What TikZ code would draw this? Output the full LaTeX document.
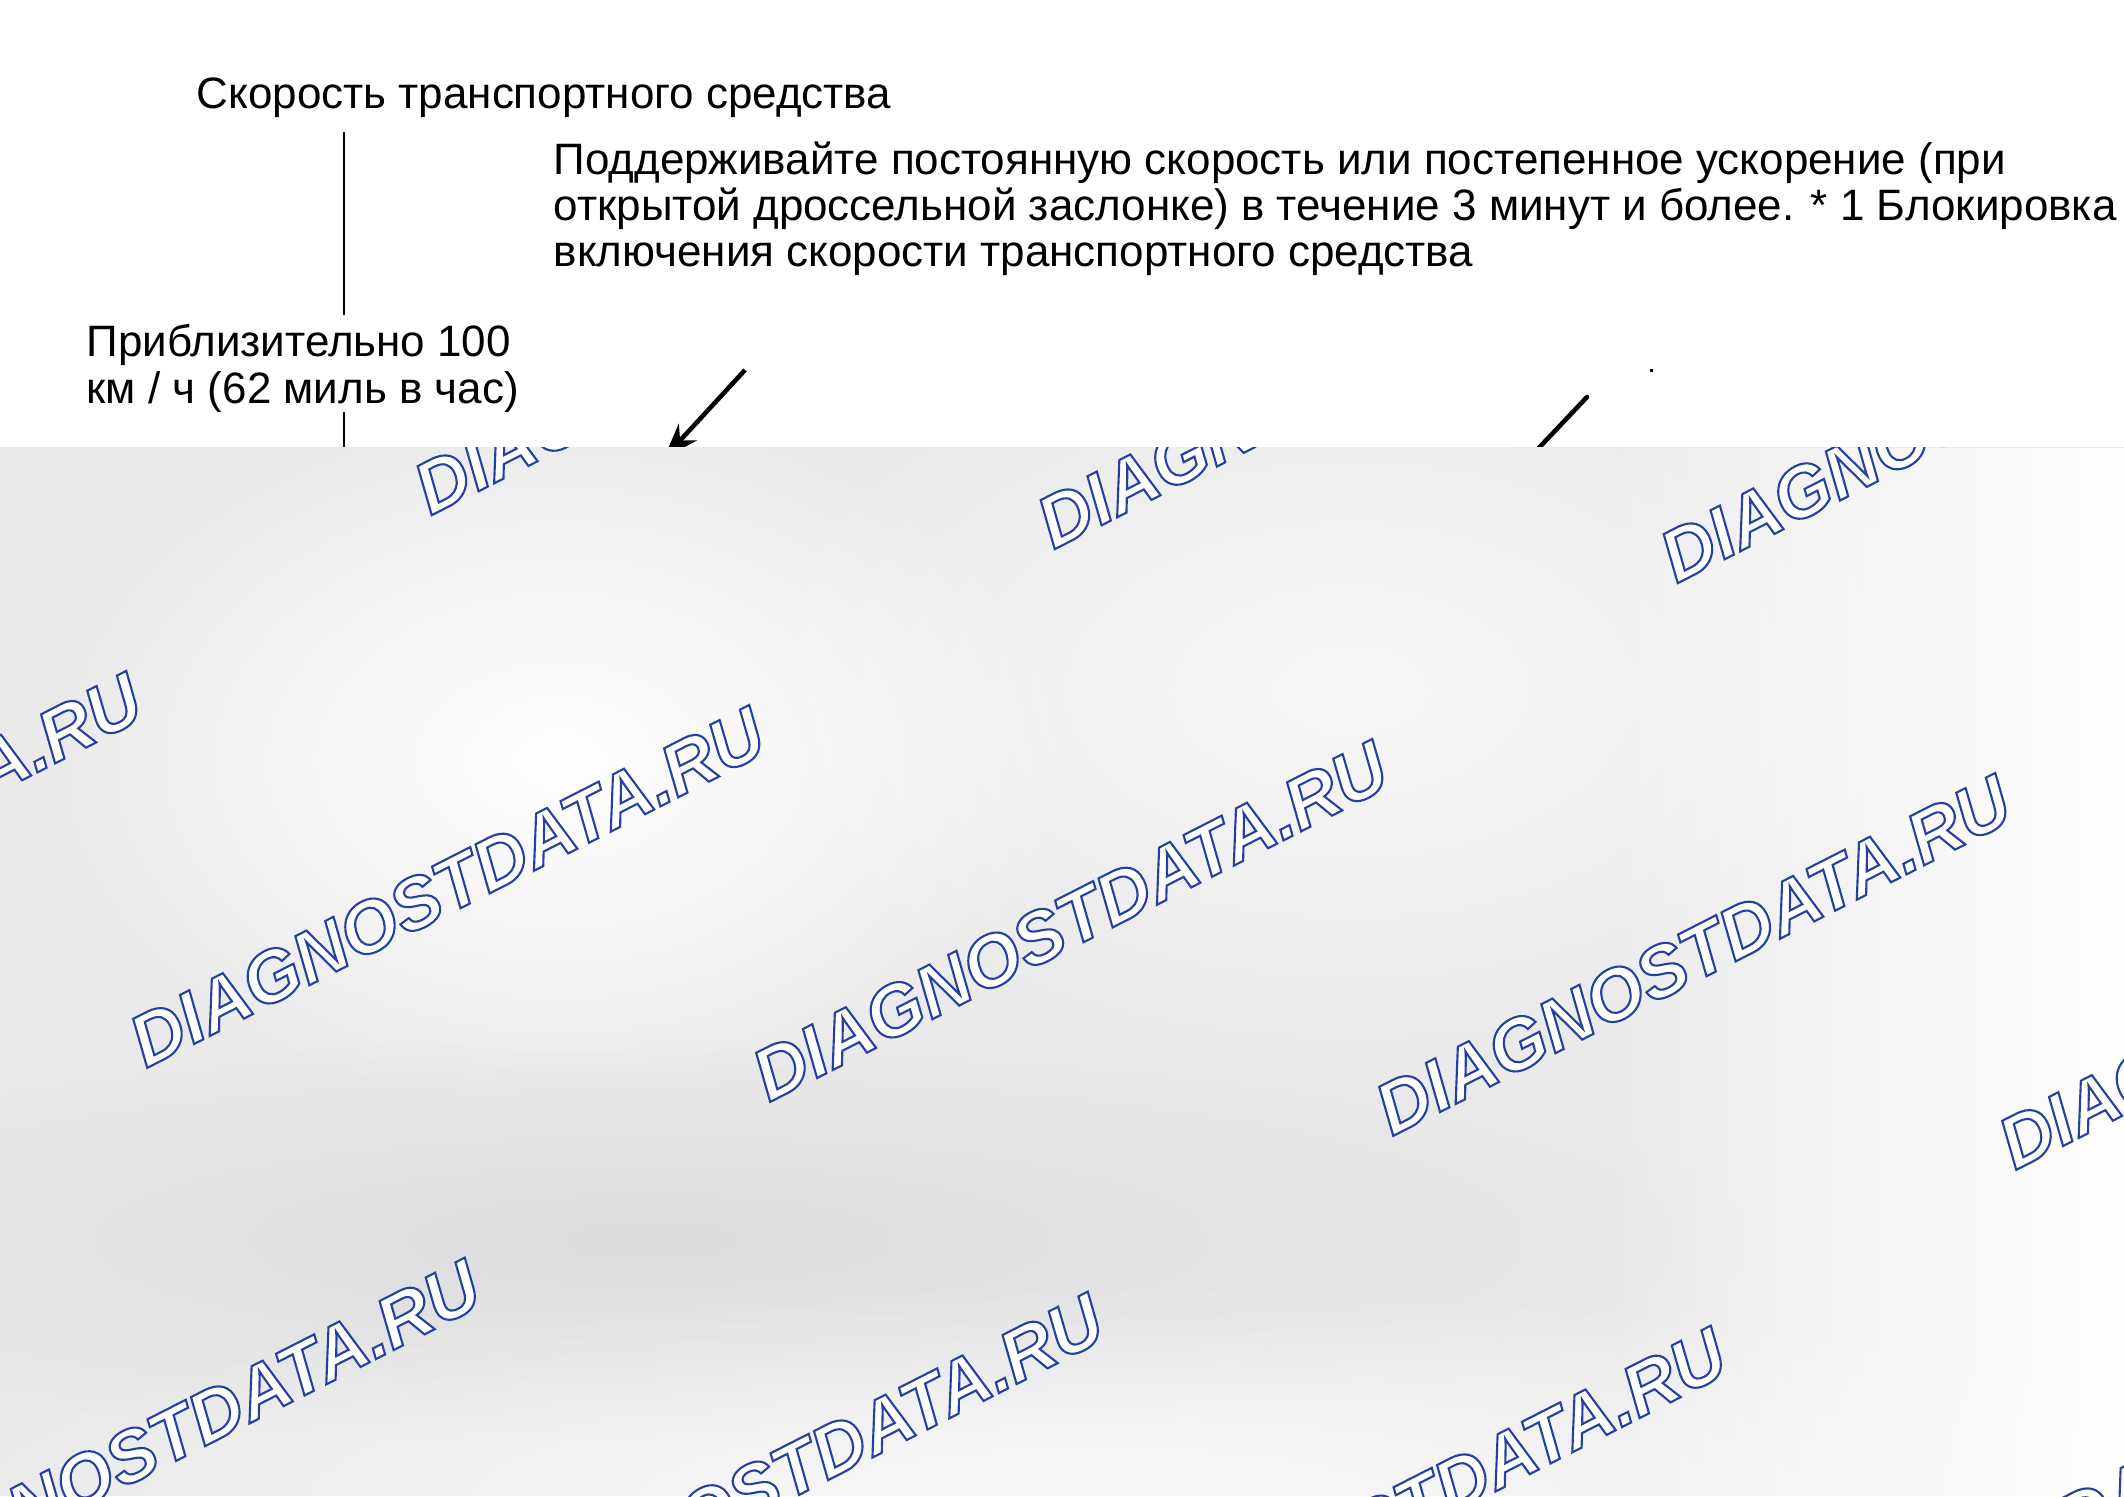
\documentclass[tikz,border=0pt]{standalone}
\usepackage{fontspec}
\setmainfont{Liberation Sans}
\usetikzlibrary{arrows.meta,positioning,fadings}

\definecolor{wmblue}{RGB}{36,64,160}
\definecolor{bggray}{RGB}{234,234,234}
\definecolor{bgdark}{RGB}{220,220,222}

% outlined watermark text: white fill, blue stroke
\newcommand\wmlabel{\special{pdf:literal direct 2 Tr 0.6 w 0.14 0.25 0.63 RG 1 g}DIAGNOSTDATA.RU\special{pdf:literal direct 0 Tr}}

\tikzfading[name=softspot, inner color=transparent!0, outer color=transparent!100]
\tikzfading[name=towhite, left color=transparent!100, right color=transparent!0]

\tikzset{
  labeltext/.style={font=\fontsize{12.5}{13.1}\selectfont, inner sep=0pt, align=left},
  axisline/.style={line width=0.45pt},
  pointer/.style={line width=1.3pt, -{Stealth[length=10pt,width=7pt]}},
  watermark/.style={font=\fontsize{20.7}{22}\selectfont\bfseries\itshape, rotate=27, inner sep=0pt},
}

\begin{document}
\begin{tikzpicture}[x=0.01cm,y=-0.01cm]
  \useasboundingbox (0,0) rectangle (2124,1496);

  % labels
  \node[labeltext, anchor=base west] (speed) at (196,108) {Скорость транспортного средства};
  \node[labeltext, anchor=north west] (hold) at (553,141)
    {Поддерживайте постоянную скорость или постепенное ускорение (при\\
     открытой дроссельной заслонке) в течение 3 минут и более. * 1 Блокировка\\
     включения скорости транспортного средства};
  \node[labeltext, anchor=north west] (approx) at (86,324)
    {Приблизительно 100\\ км / ч (62 миль в час)};

  % speed axis
  \coordinate (axtop) at (344,132);
  \coordinate (axmid) at (344,315);
  \coordinate (axlow) at (344,412);
  \coordinate (axend) at (344,470);
  \draw[axisline] (axtop) -- (axmid);
  \draw[axisline] (axlow) -- (axend);

  % pointers
  \coordinate (tailA) at (745,370);
  \coordinate (tipA) at (664,458);
  \draw[pointer] (tailA) -- (tipA);
  \coordinate (tailB) at (1587,397);
  \coordinate (tipB) at (1518,470);
  \draw[line width=1.3pt, line cap=round] (tailB) -- (tipB);
  \coordinate (dot) at (1650,369);
  \fill (dot) rectangle +(3,3);

  % photo area
  \fill[bggray] (0,447) rectangle (2124,1496);
  \begin{scope}
    \clip (0,447) rectangle (2124,1496);
    \fill[white, path fading=softspot] (560,760) ellipse (520 and 360);
    \fill[white, opacity=0.6, path fading=softspot] (1350,690) ellipse (640 and 380);
    \fill[bgdark, path fading=softspot] (650,1240) ellipse (1100 and 200);
    \fill[white, opacity=0.7, path fading=softspot] (1100,1500) ellipse (1200 and 220);
    \fill[white, path fading=towhite] (1600,447) rectangle (2124,1496);
    % watermarks
    \foreach \i in {-1,...,3}
      \foreach \j in {-1,0,1}
        \node[watermark] (wm\i\j) at ({447+623*\i-284.5*\j},{887+34*\i+552.7*\j}) {\wmlabel};
  \end{scope}
\end{tikzpicture}
\end{document}
